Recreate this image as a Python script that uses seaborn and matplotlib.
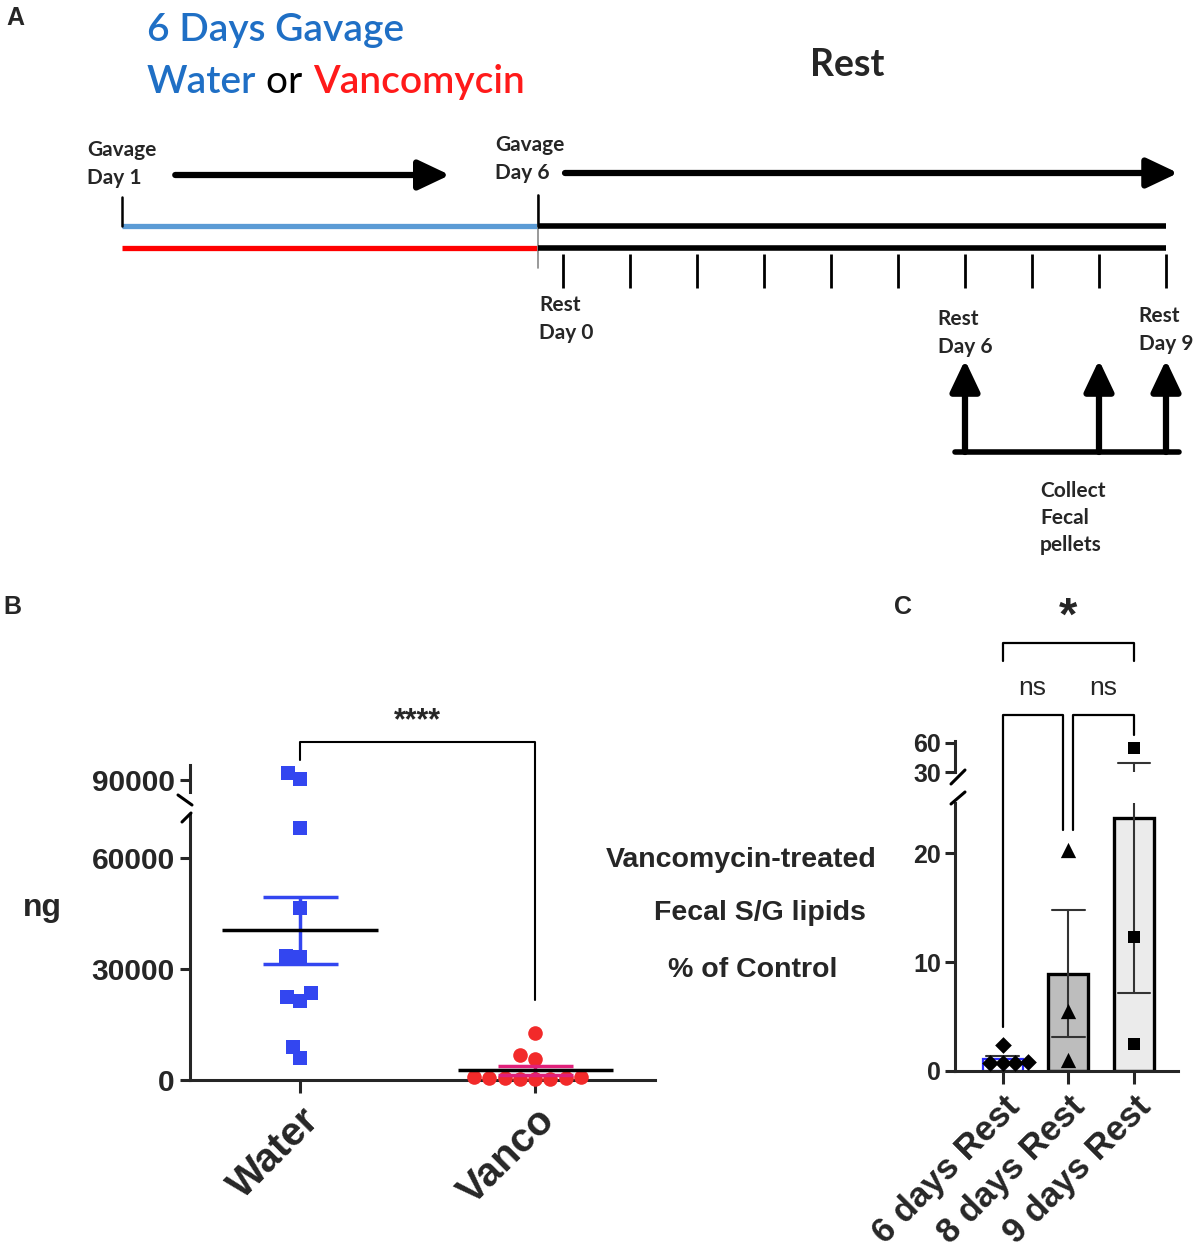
import numpy as np
import pandas as pd
import seaborn as sns
import matplotlib.pyplot as plt
from matplotlib.lines import Line2D

# ---- panel A: timeline (days) ----
gavage_days = [1, 6]
rest_days = list(range(10))
collect_days = [6, 8, 9]

# ---- panel B: fecal S/G lipids (ng) ----
groups_b = ["Water", "Vanco"]
water_ng = [91500, 90200, 68000, 46400, 33500, 33300, 23600, 22300, 21300, 9000, 5900]
vanco_ng = [12800, 6700, 5800, 900, 700, 600, 500, 500, 400, 300, 300]

# ---- panel C: vancomycin-treated, % of control ----
rest_groups = ["6 days Rest", "8 days Rest", "9 days Rest"]
rest6_pct = [2.4, 0.8, 0.75, 0.75, 0.7]
rest8_pct = [20.3, 5.5, 1.0]
rest9_pct = [55.0, 12.3, 2.5]

W, H = 1198, 1259

sns.set_theme(style="ticks")
plt.rcParams["font.family"] = ["Liberation Sans", "DejaVu Sans"]
plt.rcParams["font.weight"] = "bold"

fig = plt.figure(figsize=(W / 100, H / 100), dpi=100)


def rect(l, t, r, b):
    return [l / W, 1 - b / H, (r - l) / W, (b - t) / H]


def fx(x):
    return x / W


def fy(y):
    return 1 - y / H


blue_txt = "#1f6fc5"
red = "#ff1a1a"
sq_blue = "#3346f0"
dot_red = "#f22a2a"
pink = "#e0207a"
lato = ["Lato", "DejaVu Sans"]

# ================= panel A =================
GAV_X0, GAV_X1 = 122, 538
REST_X0, REST_X9 = 563, 1166
g_px = (GAV_X1 - GAV_X0) / (gavage_days[1] - gavage_days[0])
r_px = (REST_X9 - REST_X0) / 9

ax_g = fig.add_axes(rect(0, 0, W, 580))
ax_r = fig.add_axes(rect(0, 0, W, 580))
for a in (ax_g, ax_r):
    a.set_axis_off()
    a.set_ylim(580, 0)
ax_g.set_xlim(gavage_days[0] - GAV_X0 / g_px, gavage_days[0] + (W - GAV_X0) / g_px)
ax_r.set_xlim(-REST_X0 / r_px, (W - REST_X0) / r_px)

g0, g1 = gavage_days
ax_g.plot([g0, g1], [226, 226], color="#5b9bd5", lw=3.8, solid_capstyle="butt")
ax_g.plot([g0, g1], [248, 248], color="#ff0000", lw=3.8, solid_capstyle="butt")
ax_g.plot([g0, g0], [197, 226], color="black", lw=1.8)
ax_g.plot([g1, g1], [195, 268], color="#888888", lw=1.2)
ax_g.plot([g1, g1], [195, 226], color="black", lw=1.8)

rest_start = (GAV_X1 - REST_X0) / r_px
for yy in (226, 248):
    ax_r.plot([rest_start, rest_days[-1]], [yy, yy], color="black", lw=4, solid_capstyle="butt")
ax_r.vlines(rest_days, 254, 288, color="black", lw=2)

arrow_kw = dict(arrowstyle="-|>,head_length=0.95,head_width=0.45", lw=4.5, color="black",
                shrinkA=0, shrinkB=0, mutation_scale=20)
ax_g.annotate("", xy=(4.94, 175), xytext=(1.64, 175), arrowprops=arrow_kw)
ax_r.annotate("", xy=(9.18, 173), xytext=(0.03, 173), arrowprops=arrow_kw)
for d in collect_days:
    ax_r.annotate("", xy=(d, 360), xytext=(d, 452), arrowprops=arrow_kw)
ax_r.plot([collect_days[0] - 0.15, collect_days[-1] + 0.2], [452, 452], color="black", lw=4)

lab_kw = dict(family=lato, fontsize=15, fontweight="bold",
              ha="center", va="center", multialignment="left", linespacing=1.45)
ax_g.text(g0, 164, "Gavage\nDay 1", **lab_kw)
ax_g.text(g1 - 0.1, 159, "Gavage\nDay 6", **lab_kw)
ax_r.text(0.05, 319, "Rest\nDay 0", **lab_kw)
ax_r.text(collect_days[0], 333, "Rest\nDay 6", **lab_kw)
ax_r.text(collect_days[-1], 330, "Rest\nDay 9", **lab_kw)
fig.text(fx(1040), fy(518), "Collect\nFecal\npellets", family=lato,
         fontsize=15, fontweight="bold", ha="left", va="center", linespacing=1.45)

ttl_kw = dict(family=lato, fontsize=28, fontweight="semibold", va="center")
fig.text(fx(147), fy(30), "6 Days Gavage", color=blue_txt, **ttl_kw)
t1 = fig.text(fx(147), fy(82), "Water", color=blue_txt, **ttl_kw)
t2 = ax_g.annotate(" or ", xy=(1, 0), xycoords=t1, va="bottom", ha="left",
                   family=lato, fontsize=28, fontweight="normal", color="black")
ax_g.annotate("Vancomycin", xy=(1, 0), xycoords=t2, va="bottom", ha="left",
              family=lato, fontsize=28, fontweight="semibold", color=red)
fig.text(fx(847), fy(65), "Rest", family=lato, fontsize=27,
         fontweight="bold", ha="center", va="center")

for letter, (x, y) in zip("ABC", [(15, 18), (12, 607), (903, 607)]):
    fig.text(fx(x), fy(y), letter, fontsize=18, fontweight="bold", ha="center", va="center")

# ================= panel B =================
df_b = pd.DataFrame({"group": ["Water"] * len(water_ng) + ["Vanco"] * len(vanco_ng),
                     "ng": water_ng + vanco_ng})
axb_lo = fig.add_axes(rect(190, 815, 655, 1080))
axb_hi = fig.add_axes(rect(190, 765, 655, 792))

sns.swarmplot(data=df_b[df_b.group == "Water"], x="group", y="ng", order=groups_b,
              color=sq_blue, marker="s", size=9.5, ax=axb_lo)
sns.swarmplot(data=df_b[df_b.group == "Vanco"], x="group", y="ng", order=groups_b,
              color=dot_red, marker="o", size=10.5, ax=axb_lo)
axb_lo.collections[-1].set_clip_on(False)
sns.swarmplot(data=df_b[df_b.group == "Water"], x="group", y="ng", order=groups_b,
              color=sq_blue, marker="s", size=9.5, ax=axb_hi)

for i, (vals, ecol) in enumerate([(water_ng, sq_blue), (vanco_ng, pink)]):
    m = np.mean(vals)
    se = np.std(vals, ddof=1) / np.sqrt(len(vals))
    axb_lo.errorbar(i, m, yerr=se, color=ecol, lw=2.5, capsize=27, capthick=2.5, zorder=5)
    axb_lo.hlines(m, i - 0.33, i + 0.33, color="black", lw=2.5, zorder=6)

axb_lo.set_ylim(0, 71600)
axb_hi.set_ylim(87600, 93000)
for a in (axb_lo, axb_hi):
    a.set_xlim(-0.468, 1.51)
    a.set_facecolor("none")
    a.set_xlabel("")
    a.set_ylabel("")
    sns.despine(ax=a)
    for s in a.spines.values():
        s.set_linewidth(2.2)
    a.tick_params(axis="y", width=2.2, length=7, labelsize=21.5, pad=4)
axb_lo.set_yticks([0, 30000, 60000])
axb_hi.set_yticks([90000])
axb_hi.spines["bottom"].set_visible(False)
axb_hi.set_xticks([])
axb_lo.tick_params(axis="x", width=2.2, length=9, labelsize=29, pad=6)
for lbl in axb_lo.get_xticklabels():
    lbl.set_rotation(45)
    lbl.set_ha("right")
    lbl.set_rotation_mode("anchor")

# significance bracket
axb_lo.plot([0, 0, 1, 1], [86500, 91400, 91400, 21600], color="black", lw=1.5, clip_on=False)
axb_lo.text(0.5, 97000, "****", ha="center", va="center", fontsize=22, fontweight="bold")

# axis break marks
for (x1, y1, x2, y2) in [(178, 795, 192, 805), (182, 822, 191, 813)]:
    fig.add_artist(Line2D([fx(x1), fx(x2)], [fy(y1), fy(y2)], color="black", lw=2.2))

fig.text(fx(42), fy(908), "ng", fontsize=23, fontweight="bold", ha="center", va="center")
fig.text(fx(741), fy(860), "Vancomycin-treated", fontsize=20.5, ha="center", va="center")
fig.text(fx(760), fy(913), "Fecal S/G lipids", fontsize=20.5, ha="center", va="center")
fig.text(fx(753), fy(970), "% of Control", fontsize=20.5, ha="center", va="center")

# ================= panel C =================
df_c = pd.DataFrame({
    "group": [rest_groups[0]] * len(rest6_pct) + [rest_groups[1]] * len(rest8_pct)
    + [rest_groups[2]] * len(rest9_pct),
    "pct": rest6_pct + rest8_pct + rest9_pct,
})
axc_lo = fig.add_axes(rect(955, 803, 1178, 1071))
axc_hi = fig.add_axes(rect(955, 741, 1178, 772))
bar_fill = ["white", "#bdbdbd", "#ebebeb"]
bar_edge = ["#2b2bff", "black", "black"]
bar_lw = [1.6, 2.4, 2.4]
markers = ["D", "^", "s"]
msizes = [8.5, 11, 9]

for a in (axc_lo, axc_hi):
    sns.barplot(data=df_c, x="group", y="pct", hue="group", order=rest_groups,
                hue_order=rest_groups, palette=bar_fill, errorbar="se", capsize=0.5,
                width=0.61, err_kws={"color": "#333333", "linewidth": 1.5},
                legend=False, ax=a)
    for p, ec, lw in zip(a.patches, bar_edge, bar_lw):
        p.set_edgecolor(ec)
        p.set_linewidth(lw)
    for g, mk, ms in zip(rest_groups, markers, msizes):
        sns.swarmplot(data=df_c[df_c.group == g], x="group", y="pct", order=rest_groups,
                      color="black", marker=mk, size=ms, ax=a, zorder=4)
    a.set_xlim(-0.73, 2.67)
    a.set_facecolor("none")
    a.set_xlabel("")
    a.set_ylabel("")
    sns.despine(ax=a)
    for s in a.spines.values():
        s.set_linewidth(2.2)
    a.tick_params(axis="y", width=2.2, length=7, labelsize=18, pad=3)

axc_lo.set_ylim(0, 24.6)
axc_hi.set_ylim(30, 62)
axc_lo.set_yticks([0, 10, 20])
axc_hi.set_yticks([30, 60])
axc_hi.spines["bottom"].set_visible(False)
axc_hi.set_xticks([])
axc_lo.tick_params(axis="x", width=2.2, length=9, labelsize=25, pad=5)
for lbl in axc_lo.get_xticklabels():
    lbl.set_rotation(45)
    lbl.set_ha("right")
    lbl.set_rotation_mode("anchor")

for (x1, y1, x2, y2) in [(951, 784, 965, 770), (951, 804, 965, 792)]:
    fig.add_artist(Line2D([fx(x1), fx(x2)], [fy(y1), fy(y2)], color="black", lw=2.2))

# comparisons
br = dict(color="black", lw=1.6, clip_on=False)
axc_lo.plot([0, 0, 2, 2], [37.6, 39.3, 39.3, 37.6], **br)
axc_lo.text(1, 41.6, "*", ha="center", va="center", fontsize=34, fontweight="bold")
axc_lo.plot([0, 0, 0.92, 0.92], [4.0, 32.7, 32.7, 22.1], **br)
axc_lo.plot([1.07, 1.07, 2, 2], [22.1, 32.7, 32.7, 30.8], **br)
axc_lo.text(0.45, 35.2, "ns", ha="center", va="center", fontsize=19, fontweight="normal")
axc_lo.text(1.53, 35.2, "ns", ha="center", va="center", fontsize=19, fontweight="normal")

fig.savefig("out.png", dpi=100)
